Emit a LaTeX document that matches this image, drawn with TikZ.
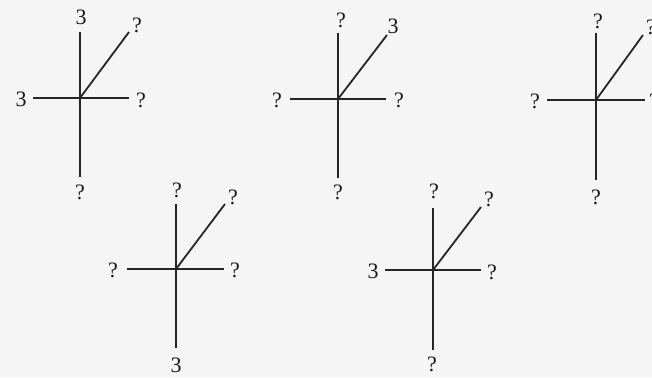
\documentclass[tikz,border=0pt]{standalone}
\usepackage{fontspec}
\setmainfont{Liberation Serif}
\begin{document}
\begin{tikzpicture}[x=1pt,y=-1pt,
  arm/.style={line width=1.8pt,draw=black!85},
  lab/.style={inner sep=0pt,font=\fontsize{22}{26}\selectfont,text=black!90}]
\useasboundingbox[fill=black!4] (0,0) rectangle (652,377);
% ---- diagram 1
\coordinate (c1) at (80,98);
\coordinate (t1) at (80,32);
\coordinate (b1) at (80,177);
\coordinate (l1) at (33,98);
\coordinate (r1) at (129,98);
\coordinate (d1) at (129,32);
\draw[arm] (t1) -- (b1);
\draw[arm] (l1) -- (r1);
\draw[arm] (c1) -- (d1);
\node[lab] (t1l) at (81,17) {3};
\node[lab] (d1l) at (137,25) {?};
\node[lab] (l1l) at (21,99) {3};
\node[lab] (r1l) at (141,100) {?};
\node[lab] (b1l) at (80,192) {?};
% ---- diagram 2
\coordinate (c2) at (338,99);
\coordinate (t2) at (338,33);
\coordinate (b2) at (338,178);
\coordinate (l2) at (290,99);
\coordinate (r2) at (386,99);
\coordinate (d2) at (387,35);
\draw[arm] (t2) -- (b2);
\draw[arm] (l2) -- (r2);
\draw[arm] (c2) -- (d2);
\node[lab] (t2l) at (341,20) {?};
\node[lab] (d2l) at (393,26) {3};
\node[lab] (l2l) at (277,100) {?};
\node[lab] (r2l) at (399,100) {?};
\node[lab] (b2l) at (338,192) {?};
% ---- diagram 3
\coordinate (c3) at (596,100);
\coordinate (t3) at (596,33);
\coordinate (b3) at (596,180);
\coordinate (l3) at (547,100);
\coordinate (r3) at (645,100);
\coordinate (d3) at (643,35);
\draw[arm] (t3) -- (b3);
\draw[arm] (l3) -- (r3);
\draw[arm] (c3) -- (d3);
\node[lab] (t3l) at (598,21) {?};
\node[lab] (d3l) at (651,27) {?};
\node[lab] (l3l) at (535,101) {?};
\node[lab] (r3l) at (654,101) {?};
\node[lab] (b3l) at (596,197) {?};
% ---- diagram 4
\coordinate (c4) at (176,269);
\coordinate (t4) at (176,204);
\coordinate (b4) at (176,348);
\coordinate (l4) at (127,269);
\coordinate (r4) at (224,269);
\coordinate (d4) at (225,204);
\draw[arm] (t4) -- (b4);
\draw[arm] (l4) -- (r4);
\draw[arm] (c4) -- (d4);
\node[lab] (t4l) at (177,190) {?};
\node[lab] (d4l) at (233,197) {?};
\node[lab] (l4l) at (113,270) {?};
\node[lab] (r4l) at (235,270) {?};
\node[lab] (b4l) at (176,365) {3};
% ---- diagram 5
\coordinate (c5) at (433,270);
\coordinate (t5) at (433,208);
\coordinate (b5) at (433,350);
\coordinate (l5) at (385,270);
\coordinate (r5) at (481,270);
\coordinate (d5) at (481,207);
\draw[arm] (t5) -- (b5);
\draw[arm] (l5) -- (r5);
\draw[arm] (c5) -- (d5);
\node[lab] (t5l) at (434,191) {?};
\node[lab] (d5l) at (489,199) {?};
\node[lab] (l5l) at (373,271) {3};
\node[lab] (r5l) at (492,272) {?};
\node[lab] (b5l) at (432,364) {?};
\end{tikzpicture}
\end{document}
